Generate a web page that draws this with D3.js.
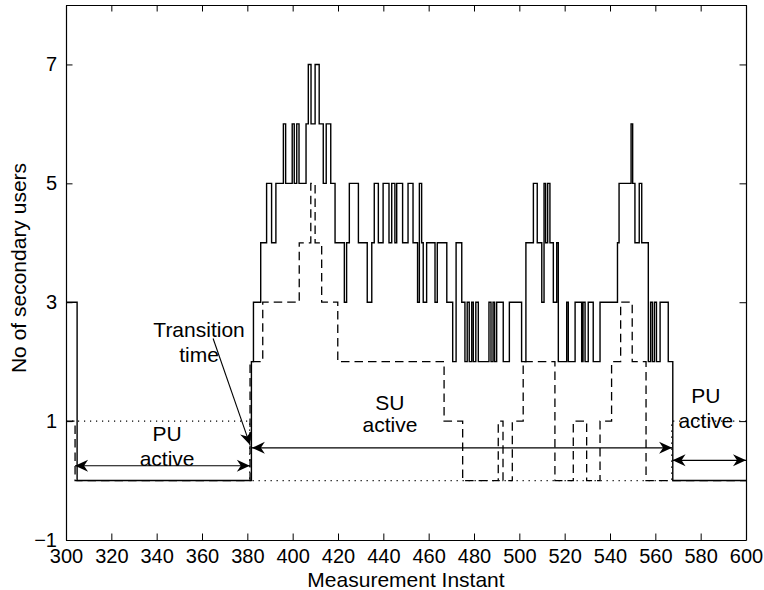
<!DOCTYPE html>
<html>
<head>
<meta charset="utf-8">
<script src="https://cdn.jsdelivr.net/npm/d3@7"></script>
<style>
  body { margin: 0; background: #fff; }
  svg text { font-family: "Liberation Sans", Arial, Helvetica, sans-serif; fill: #000; }
</style>
</head>
<body>
<script>
// step series: value holds from x[i] until x[i+1]
var solidX = [300, 304.9, 381.8, 382.7, 385.9, 388.5, 390.7, 392.6, 395.9, 396.9, 399.8, 400.7,
  401.8, 402.8, 405.9, 406.9, 408.1, 409.9, 411.7, 413.5, 414.8, 416.8, 418.7, 422.8, 423.8,
  425, 429, 432.9, 434.9, 436, 437.8, 439.9, 442.5, 443.7, 445.1, 445.9, 448.5, 450.9, 453.1,
  455.1, 455.9, 456.9, 457.6, 459.1, 462.8, 463.8, 468, 470.6, 472.1, 474.6, 476, 477, 477.9,
  479, 479.7, 480.8, 481.9, 486.6, 487.5, 488.4, 489.1, 490, 492.9, 495.6, 501, 502.9, 506.2,
  507.9, 509.9, 510.9, 511.6, 512.5, 513.5, 515, 516.5, 517.2, 520.9, 521.6, 524.6, 527.5,
  528.1, 529, 530.4, 532.6, 535.6, 543.3, 544, 549.3, 550, 551, 552.9, 554, 556.9, 557.9,
  558.7, 559.6, 560.5, 562.1, 565.7, 567.7, 600];
var solidY = [3, 0, 2, 3, 4, 5, 4, 5, 6, 5, 6, 5,
  6, 5, 6, 7, 6, 7, 6, 5, 6, 5, 4, 3, 4,
  5, 4, 3, 4, 5, 4, 5, 4, 5, 4, 5, 4, 5, 4,
  3, 5, 4, 3, 4, 3, 4, 3, 2, 4, 3, 2, 3, 2,
  3, 2, 3, 2, 3, 2, 3, 2, 3, 2, 3, 2, 4, 5,
  4, 3, 5, 4, 5, 4, 3, 4, 2, 3, 2, 3, 2,
  3, 2, 3, 2, 3, 4, 5, 6, 5, 4, 5, 4, 2, 3,
  2, 3, 2, 3, 2, 0, 0];

var dashedX = [300, 304, 381.2, 386.8, 402.9, 408, 409.9, 412.8, 419.9, 466.8, 475, 490.7,
  492.8, 496.9, 501.7, 515.7, 523.8, 529.7, 535.6, 540.7, 544.7, 549.8, 555.9, 600];
var dashedY = [1, 0, 2, 3, 4, 5, 4, 3, 2, 1, 0, 1,
  0, 1, 2, 0, 1, 0, 1, 2, 3, 2, 0, 0];

var dottedX = [300, 381, 567.2, 600];
var dottedY = [1, 0, 1, 1];

var xTicks = [300, 320, 340, 360, 380, 400, 420, 440, 460, 480, 500, 520, 540, 560, 580, 600];
var yTicks = [-1, 1, 3, 5, 7];

var xLabel = "Measurement Instant";
var yLabel = "No of secondary users";

var width = 764, height = 590;
var margin = { left: 66, right: 18, top: 5, bottom: 50 };

var svg = d3.select("body").append("svg")
  .attr("width", width)
  .attr("height", height);

var x = d3.scaleLinear().domain([300, 600]).range([margin.left, width - margin.right]);
var y = d3.scaleLinear().domain([-1, 8]).range([height - margin.bottom, margin.top]);

function toPoints(xs, ys) {
  return xs.map(function (d, i) { return [d, ys[i]]; });
}

var line = d3.line()
  .x(function (d) { return x(d[0]); })
  .y(function (d) { return y(d[1]); })
  .curve(d3.curveStepAfter);

var plot = svg.append("g");

plot.append("path")
  .attr("d", line(toPoints(dottedX, dottedY)))
  .attr("fill", "none")
  .attr("stroke", "#000")
  .attr("stroke-width", 1.2)
  .attr("stroke-dasharray", "1.2,4.8");

plot.append("path")
  .attr("d", line(toPoints(dashedX, dashedY)))
  .attr("fill", "none")
  .attr("stroke", "#000")
  .attr("stroke-width", 1.3)
  .attr("stroke-dasharray", "8.5,5");

plot.append("path")
  .attr("d", line(toPoints(solidX, solidY)))
  .attr("fill", "none")
  .attr("stroke", "#000")
  .attr("stroke-width", 1.4);

// axes: ticks pointing inward, box all round
var tick = 6.5;
var fmt = function (d) { return d < 0 ? "\u2212" + Math.abs(d) : d; };

svg.append("g")
  .attr("transform", "translate(0," + y(-1) + ")")
  .call(d3.axisBottom(x).tickValues(xTicks).tickSizeInner(-tick).tickSizeOuter(0).tickPadding(9));
svg.append("g")
  .attr("transform", "translate(0," + y(8) + ")")
  .call(d3.axisTop(x).tickValues(xTicks).tickSizeInner(-tick).tickSizeOuter(0).tickFormat(""));
svg.append("g")
  .attr("transform", "translate(" + x(300) + ",0)")
  .call(d3.axisLeft(y).tickValues(yTicks).tickSizeInner(-tick).tickSizeOuter(0).tickPadding(9).tickFormat(fmt));
svg.append("g")
  .attr("transform", "translate(" + x(600) + ",0)")
  .call(d3.axisRight(y).tickValues(yTicks).tickSizeInner(-tick).tickSizeOuter(0).tickFormat(""));

svg.selectAll(".domain").attr("stroke", "#000").attr("stroke-width", 1.2);
svg.selectAll(".tick line").attr("stroke", "#000").attr("stroke-width", 1);
svg.selectAll(".tick text").style("font-size", "20px");

svg.append("text")
  .attr("x", x(450))
  .attr("y", 587)
  .attr("text-anchor", "middle")
  .style("font-size", "21px")
  .text(xLabel);

svg.append("text")
  .attr("transform", "translate(26,268) rotate(-90)")
  .attr("text-anchor", "middle")
  .style("font-size", "21px")
  .text(yLabel);

// annotations
function arrowHead(g, tipX, tipY, angle) {
  var len = 13, half = 6, notch = 9;
  var c = Math.cos(angle), s = Math.sin(angle);
  function pt(a, b) { return [tipX - a * c + b * s, tipY - a * s - b * c]; }
  var p = [pt(0, 0), pt(len, half), pt(notch, 0), pt(len, -half)];
  g.append("path")
    .attr("d", "M" + p.join("L") + "Z")
    .attr("fill", "#000")
    .attr("stroke", "none");
}

function arrow(x1, y1, x2, y2, both) {
  var g = svg.append("g");
  var px1 = x(x1), py1 = y(y1), px2 = x(x2), py2 = y(y2);
  g.append("line")
    .attr("x1", px1).attr("y1", py1)
    .attr("x2", px2).attr("y2", py2)
    .attr("stroke", "#000")
    .attr("stroke-width", 1.1);
  var a = Math.atan2(py2 - py1, px2 - px1);
  arrowHead(g, px2, py2, a);
  if (both) arrowHead(g, px1, py1, a + Math.PI);
}

function label(lines, cx, baselines) {
  lines.forEach(function (t, i) {
    svg.append("text")
      .attr("x", x(cx))
      .attr("y", y(baselines[i]))
      .attr("text-anchor", "middle")
      .style("font-size", "21px")
      .text(t);
  });
}

label(["Transition", "time"], 358.7, [2.41, 2.0]);
label(["PU", "active"], 344.6, [0.66, 0.24]);
label(["SU", "active"], 442.9, [1.19, 0.81]);
label(["PU", "active"], 582.3, [1.31, 0.89]);

arrow(304, 0.25, 381.1, 0.25, true);
arrow(382, 0.55, 567.4, 0.55, true);
arrow(567.6, 0.34, 600, 0.34, true);
arrow(364.9, 2.39, 381.2, 0.6, false);
</script>
</body>
</html>
